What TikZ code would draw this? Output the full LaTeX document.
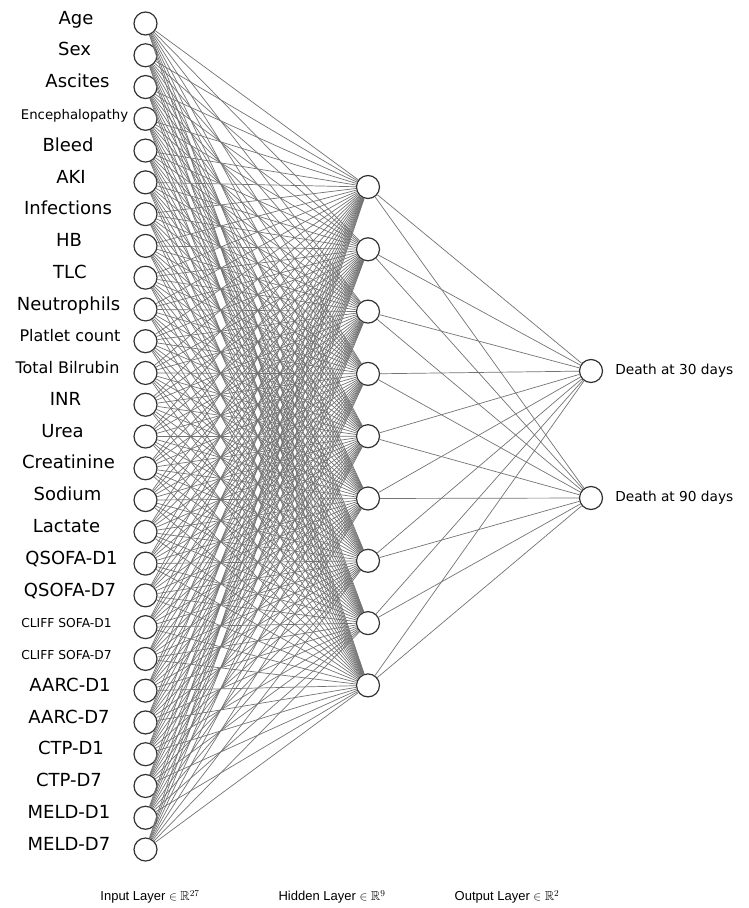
\documentclass[tikz,border=0pt]{standalone}
\usepackage{fontspec}
\usepackage{amssymb}
\setmainfont{DejaVu Sans}
\newfontfamily\layerfont{Liberation Sans}
\usetikzlibrary{positioning}

\begin{document}
\begin{tikzpicture}[x=1pt,y=-1pt]
	\def \inx{145.5}
	\def \hidx{368}
	\def \outx{591}
	\tikzstyle{neuron}=[circle,draw=black!80,line width=1.2pt,fill=white,minimum size=23pt,inner sep=0pt]
	\tikzstyle{w-edge}=[draw=black!55,line width=0.7pt]
	\tikzstyle{feat}=[inner sep=0pt,text height=0.73em,text depth=0pt]
	\tikzstyle{layer-name}=[inner sep=0pt,font=\layerfont\fontsize{13}{15}\selectfont]
	\useasboundingbox (0,0) rectangle (748,908);
	% input layer
	\foreach \txt/\fs/\cx [count=\i] in {Age/18/76, Sex/18/74.5, Ascites/18/77.5,
		Encephalopathy/13.3/74.5, Bleed/18/68, AKI/18/71, Infections/18/68, HB/18/69,
		TLC/18/70, Neutrophils/18/68.5, Platlet count/16/70, Total Bilrubin/16/67.5,
		INR/18/65.5, Urea/18/62.5, Creatinine/18/68.5, Sodium/18/67.5, Lactate/18/66.5,
		QSOFA-D1/18/71.5, QSOFA-D7/18/70, CLIFF SOFA-D1/12.3/66.5, CLIFF SOFA-D7/12.3/66.5,
		AARC-D1/18/70, AARC-D7/18/69, CTP-D1/18/71, CTP-D7/18/69, MELD-D1/18/69, MELD-D7/18/69}
	{
		\node[neuron] (in\i) at (\inx,{23.5+31.77*(\i-1)}) {};
		\node[feat,font=\fontsize{\fs}{\fs}\selectfont] (inlab\i) at (\cx,{20.5+31.77*(\i-1)}) {\txt};
	}
	% hidden layer
	\foreach \j in {1,...,9}
		\node[neuron] (hid\j) at (\hidx,{187+62.3*(\j-1)}) {};
	% output layer
	\node[neuron] (out1) at (\outx,371) {};
	\node[neuron] (out2) at (\outx,498) {};
	\node[feat,font=\fontsize{13.7}{14}\selectfont,right=12pt of out1] (outlab1) {Death at 30 days};
	\node[feat,font=\fontsize{13.7}{14}\selectfont,right=12pt of out2] (outlab2) {Death at 90 days};
	% weights
	\foreach \i in {1,...,27}
		\foreach \j in {1,...,9}
			\draw[w-edge] (in\i) -- (hid\j);
	\foreach \j in {1,...,9}
		\foreach \k in {1,2}
			\draw[w-edge] (hid\j) -- (out\k);
	% layer names
	\node[layer-name] (inname) at (150,897) {Input Layer $\in\mathbb{R}^{27}$};
	\node[layer-name] (hidname) at (332,897) {Hidden Layer $\in\mathbb{R}^{9}$};
	\node[layer-name] (outname) at (507,897) {Output Layer $\in\mathbb{R}^{2}$};
\end{tikzpicture}
\end{document}
